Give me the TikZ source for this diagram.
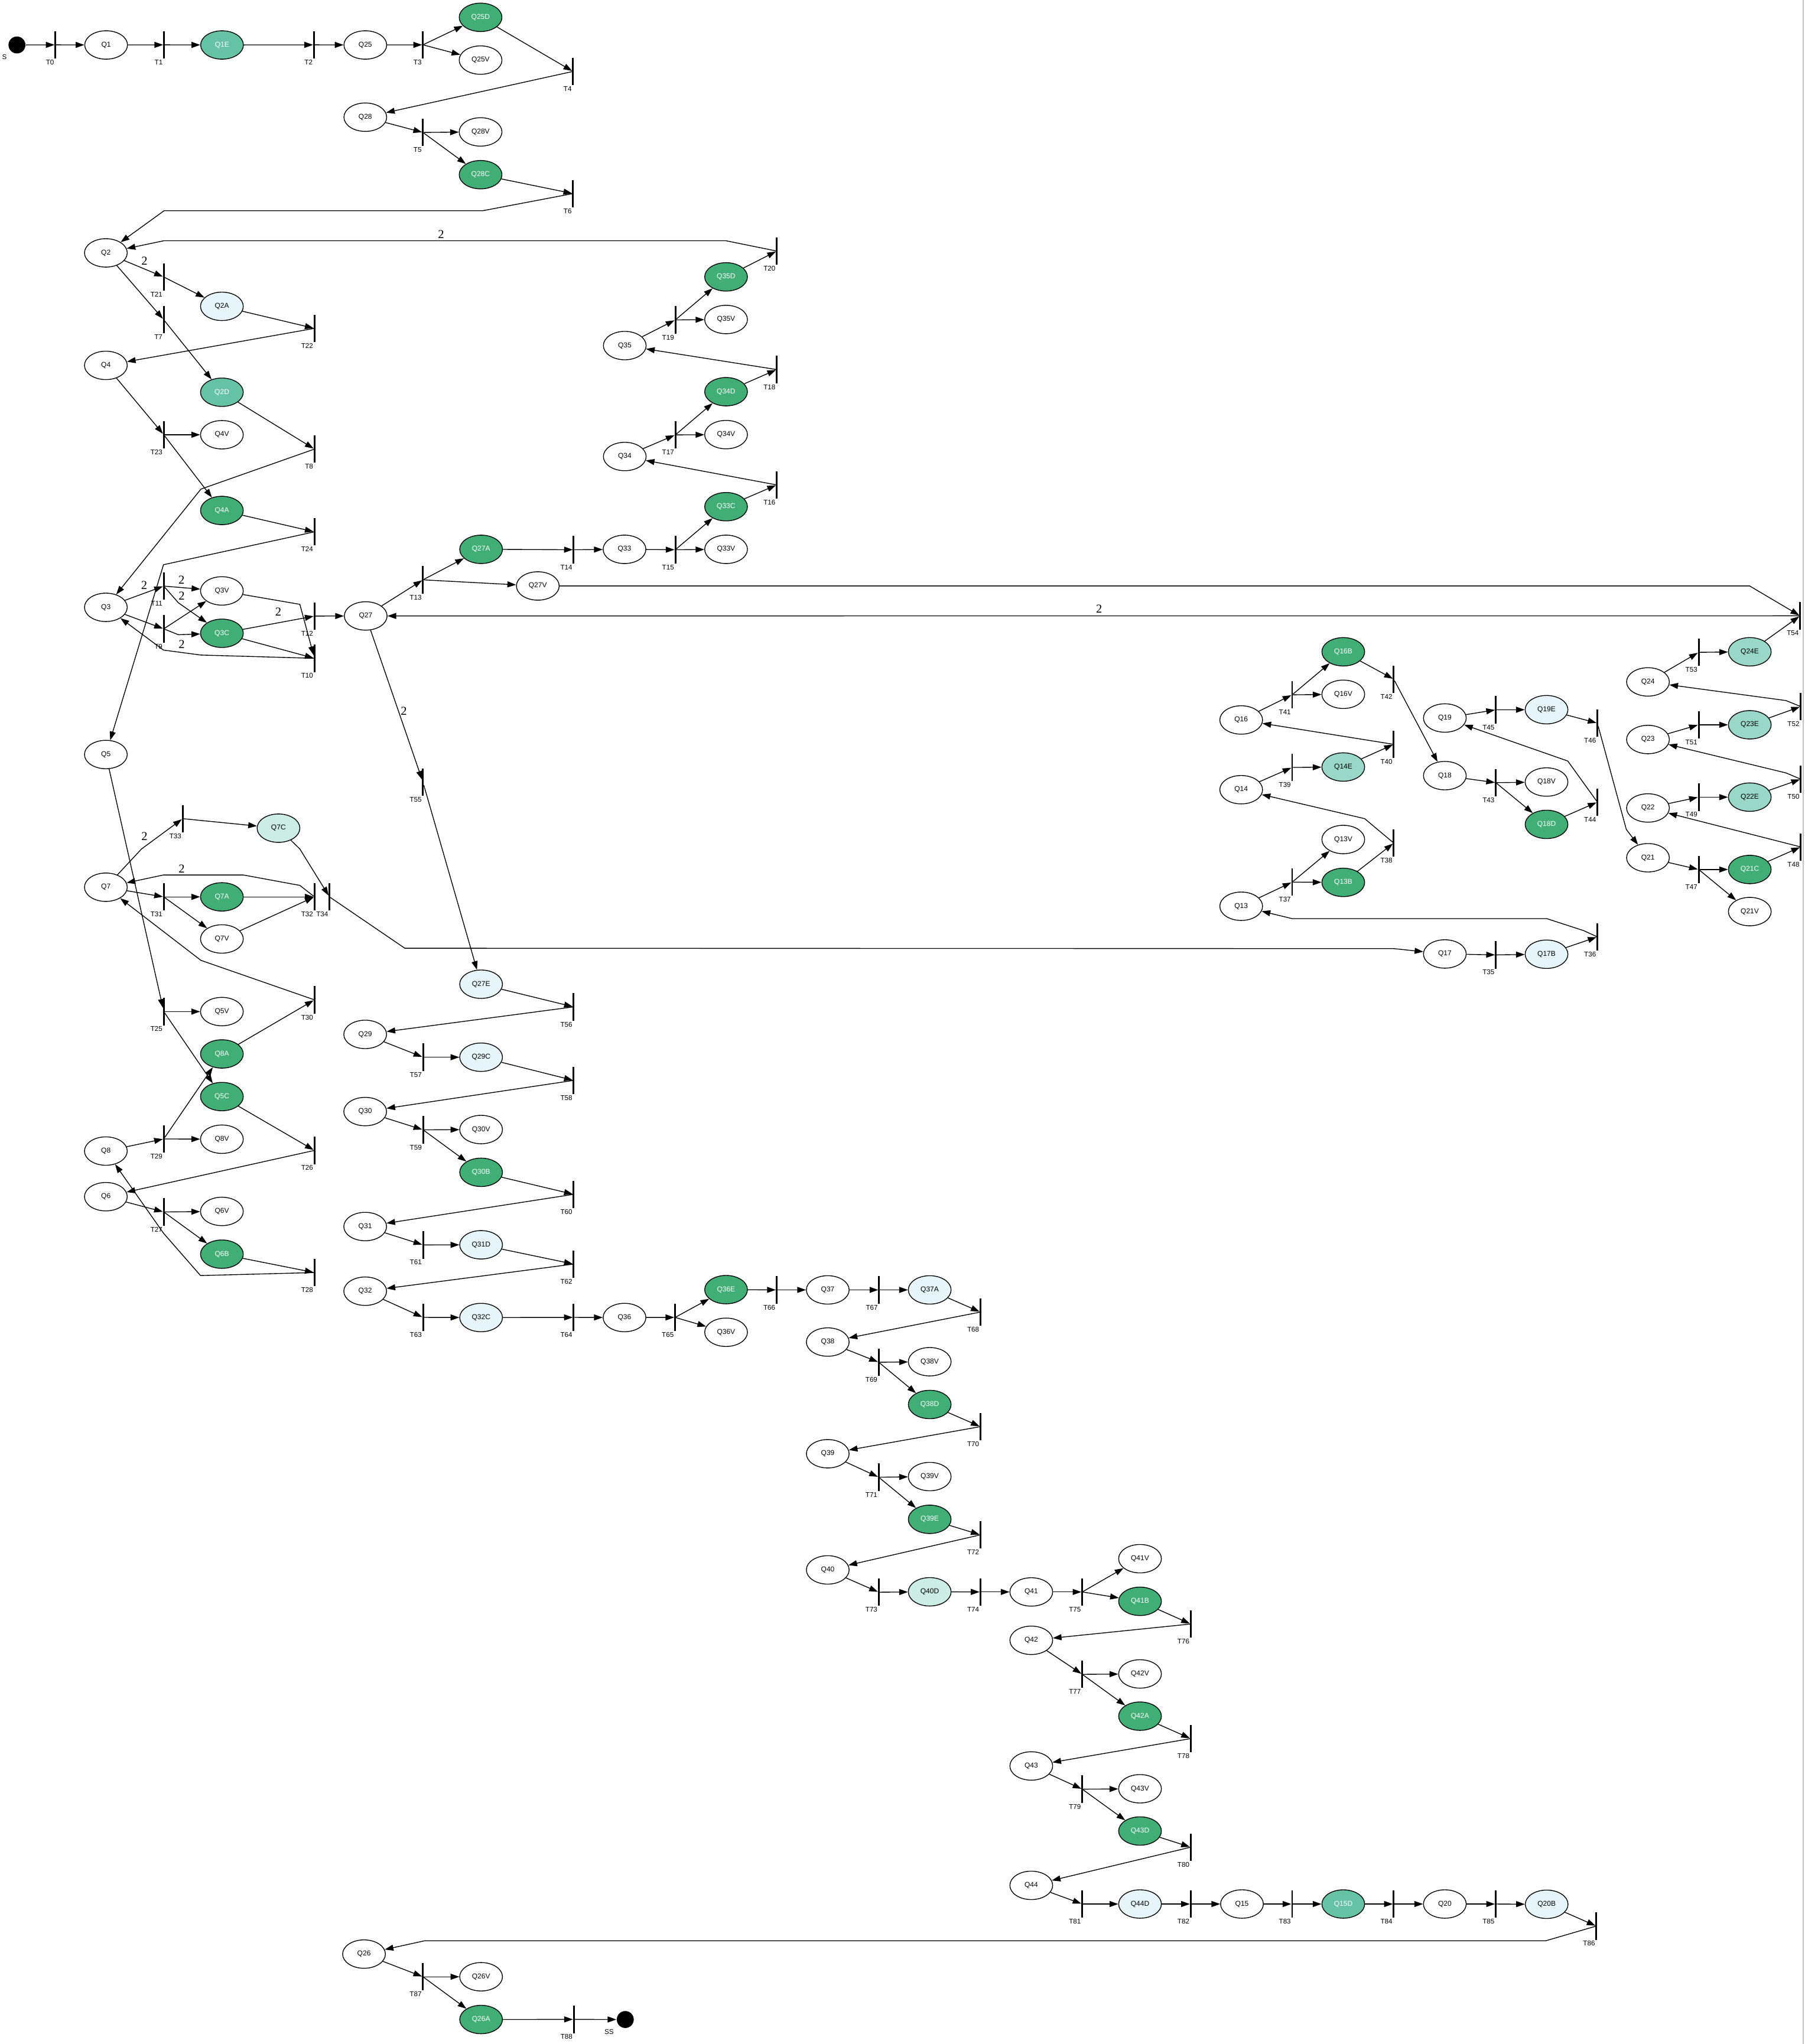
\documentclass[tikz,border=0pt]{standalone}
\usepackage{fontspec}
\setmainfont{Liberation Sans}
\newfontfamily\wfont{Liberation Serif}
\usetikzlibrary{shapes.geometric,arrows.meta}
\definecolor{cdark}{HTML}{41AE76}
\definecolor{cmed}{HTML}{66C2A4}
\definecolor{cteal}{HTML}{99D8C9}
\definecolor{clight}{HTML}{CCECE6}
\definecolor{cblue}{HTML}{E5F5F9}
\tikzset{
  place/.style={ellipse, draw=black, line width=0.35pt, fill=white, minimum width=0.656cm, minimum height=0.436cm, inner sep=0pt, font=\fontsize{3.1}{3.7}\selectfont},
  pdark/.style={place, fill=cdark, text=white},
  pmed/.style={place, fill=cmed, text=white},
  pteal/.style={place, fill=cteal},
  plight/.style={place, fill=clight},
  pblue/.style={place, fill=cblue},
  tlab/.style={anchor=north east, inner sep=0.4pt, font=\fontsize{3}{3.6}\selectfont},
  trans/.style={rectangle, fill=black, minimum width=0.75pt, minimum height=0.42cm, inner sep=0pt, outer sep=0pt, label={[tlab]south:#1}},
  dotnode/.style={circle, fill=black, minimum size=0.26cm, inner sep=0pt},
  edge/.style={draw, line width=0.35pt, -{Triangle[length=3.8pt,width=2.6pt]}},
  wlab/.style={inner sep=0pt, font=\wfont\fontsize{5.3}{6}\selectfont},
}
\begin{document}
\begin{tikzpicture}[x=0.02cm, y=-0.02cm]
\fill[white] (0,0) rectangle (1384,1568);
\useasboundingbox (0,0) rectangle (1384,1568);
\draw[black!25, line width=0.5pt] (1383.2,0) -- (1383.2,1568);

% ---------- top row
\node[dotnode, label={[tlab, xshift=-0.04cm, yshift=-0.03cm]south west:S}] (S) at (13,34.5) {};
\node[trans=T0] (T0) at (42.5,34.4) {};
\node[place] (Q1) at (81.4,34.5) {Q1};
\node[trans=T1] (T1) at (125.8,34.4) {};
\node[pmed] (Q1E) at (170.3,34.5) {Q1E};
\node[trans=T2] (T2) at (240.8,34.4) {};
\node[place] (Q25) at (280.2,34.5) {Q25};
\node[trans=T3] (T3) at (324.4,34.4) {};
\node[pdark] (Q25D) at (368.6,13.3) {Q25D};
\node[place] (Q25V) at (368.6,46.1) {Q25V};
\node[trans=T4] (T4) at (439.5,54.8) {};
\node[place] (Q28) at (280.2,89.9) {Q28};
\node[trans=T5] (T5) at (324.4,101.6) {};
\node[place] (Q28V) at (368.6,101.2) {Q28V};
\node[pdark] (Q28C) at (368.6,134) {Q28C};
\node[trans=T6] (T6) at (439.5,148.5) {};

% ---------- left block
\node[place] (Q2) at (81.2,194) {Q2};
\node[trans=T20] (T20) at (595.8,192.6) {};
\node[trans=T21] (T21) at (125.6,212.5) {};
\node[pblue] (Q2A) at (170.2,235) {Q2A};
\node[trans=T7] (T7) at (125.6,245.3) {};
\node[trans=T22] (T22) at (241.2,251.9) {};
\node[place] (Q4) at (81.2,280.3) {Q4};
\node[pmed] (Q2D) at (170.2,300.9) {Q2D};
\node[trans=T23] (T23) at (125.6,333.5) {};
\node[place] (Q4V) at (170.2,333.5) {Q4V};
\node[trans=T8] (T8) at (241.2,344.5) {};
\node[pdark] (Q4A) at (170.2,391.6) {Q4A};
\node[trans=T24] (T24) at (241.2,408) {};
\node[trans=T11] (T11) at (125.6,449.6) {};
\node[place] (Q3V) at (170.2,453.3) {Q3V};
\node[place] (Q3) at (81.2,465.9) {Q3};
\node[trans=T12] (T12) at (241.2,472.6) {};
\node[place] (Q27) at (280.5,472.5) {Q27};
\node[trans=T9] (T9) at (125.6,482.4) {};
\node[pdark] (Q3C) at (170.2,485.8) {Q3C};
\node[trans=T10] (T10) at (241.2,505) {};
\node[place] (Q5) at (81.2,578.8) {Q5};
\node[trans=T33] (T33) at (140.1,628) {};
\node[plight] (Q7C) at (213.6,635.3) {Q7C};
\node[place] (Q7) at (81.2,680.6) {Q7};
\node[trans=T31] (T31) at (125.6,688) {};
\node[pdark] (Q7A) at (170.2,688) {Q7A};
\node[trans=T32] (T32) at (241.2,688) {};
\node[trans=T34] (T34) at (252.7,688) {};
\node[place] (Q7V) at (170.2,720.3) {Q7V};
\node[trans=T30] (T30) at (241.2,767) {};
\node[trans=T25] (T25) at (125.6,776) {};
\node[place] (Q5V) at (170.2,776) {Q5V};
\node[pdark] (Q8A) at (170.2,808.5) {Q8A};
\node[pdark] (Q5C) at (170.2,841.2) {Q5C};
\node[trans=T29] (T29) at (125.6,873.7) {};
\node[place] (Q8V) at (170.2,873.9) {Q8V};
\node[trans=T26] (T26) at (241.2,882.5) {};
\node[place] (Q8) at (81.2,883) {Q8};
\node[place] (Q6) at (81.2,918) {Q6};
\node[trans=T27] (T27) at (125.6,929.7) {};
\node[place] (Q6V) at (170.2,929.3) {Q6V};
\node[pdark] (Q6B) at (170.2,962.1) {Q6B};
\node[trans=T28] (T28) at (241.2,976.2) {};

% ---------- middle block
\node[trans=T13] (T13) at (324.4,444.8) {};
\node[pdark] (Q27A) at (369,421.4) {Q27A};
\node[place] (Q27V) at (412.5,449.5) {Q27V};
\node[trans=T14] (T14) at (440,421.7) {};
\node[place] (Q33) at (479,421.4) {Q33};
\node[trans=T15] (T15) at (518,421.7) {};
\node[place] (Q33V) at (556.9,421.4) {Q33V};
\node[pdark] (Q33C) at (556.9,388.7) {Q33C};
\node[trans=T16] (T16) at (595.8,372) {};
\node[place] (Q34) at (479.2,350.2) {Q34};
\node[trans=T17] (T17) at (518,333.6) {};
\node[place] (Q34V) at (556.9,333.4) {Q34V};
\node[pdark] (Q34D) at (556.9,300.5) {Q34D};
\node[trans=T18] (T18) at (595.8,283.5) {};
\node[place] (Q35) at (479.2,265.1) {Q35};
\node[trans=T19] (T19) at (518,245.4) {};
\node[place] (Q35V) at (556.9,245.1) {Q35V};
\node[pdark] (Q35D) at (556.9,212.4) {Q35D};
\node[trans=T54] (T54) at (1380.7,472.4) {};
\node[trans=T55] (T55) at (324.4,600) {};
\node[pblue] (Q27E) at (369,755) {Q27E};
\node[trans=T56] (T56) at (440,772.4) {};
\node[place] (Q29) at (280.1,793.5) {Q29};
\node[trans=T57] (T57) at (324.5,811) {};
\node[pblue] (Q29C) at (369,811) {Q29C};
\node[trans=T58] (T58) at (440,828.8) {};
\node[place] (Q30) at (280.1,852.7) {Q30};
\node[trans=T59] (T59) at (324.5,866.7) {};
\node[place] (Q30V) at (369,866.5) {Q30V};
\node[pdark] (Q30B) at (369,899.3) {Q30B};
\node[trans=T60] (T60) at (440,916.2) {};
\node[place] (Q31) at (280.1,940.9) {Q31};
\node[trans=T61] (T61) at (324.5,955) {};
\node[pblue] (Q31D) at (369,954.9) {Q31D};
\node[trans=T62] (T62) at (440,969.7) {};
\node[place] (Q32) at (280.1,990.5) {Q32};
\node[trans=T63] (T63) at (324.5,1010.6) {};
\node[pblue] (Q32C) at (369,1010.7) {Q32C};
\node[trans=T64] (T64) at (440,1010.6) {};
\node[place] (Q36) at (479,1010.7) {Q36};
\node[trans=T65] (T65) at (517.8,1010.6) {};
\node[pdark] (Q36E) at (556.9,989.3) {Q36E};
\node[place] (Q36V) at (556.9,1022) {Q36V};
\node[trans=T66] (T66) at (595.7,989.5) {};
\node[place] (Q37) at (634.9,989.5) {Q37};
\node[trans=T67] (T67) at (674.3,989.5) {};
\node[pblue] (Q37A) at (713.1,989.5) {Q37A};
\node[trans=T68] (T68) at (752,1006.5) {};
\node[place] (Q38) at (634.9,1029.5) {Q38};
\node[trans=T69] (T69) at (674,1045) {};
\node[place] (Q38V) at (713.1,1044.6) {Q38V};
\node[pdark] (Q38D) at (713.1,1077.4) {Q38D};
\node[trans=T70] (T70) at (752,1094.4) {};
\node[place] (Q39) at (634.9,1115.2) {Q39};
\node[trans=T71] (T71) at (674,1133.2) {};
\node[place] (Q39V) at (713.1,1132.7) {Q39V};
\node[pdark] (Q39E) at (713.1,1165.5) {Q39E};
\node[trans=T72] (T72) at (752,1177.4) {};
\node[place] (Q40) at (634.9,1204.3) {Q40};
\node[trans=T73] (T73) at (674,1221.4) {};
\node[plight] (Q40D) at (713.1,1221.1) {Q40D};
\node[trans=T74] (T74) at (752,1221.2) {};
\node[place] (Q41) at (791,1221.2) {Q41};
\node[trans=T75] (T75) at (830.1,1221.2) {};
\node[place] (Q41V) at (874.4,1195.7) {Q41V};
\node[pdark] (Q41B) at (874.4,1228.4) {Q41B};
\node[trans=T76] (T76) at (913.3,1245.8) {};
\node[place] (Q42) at (791,1258.3) {Q42};
\node[trans=T77] (T77) at (830.1,1284.4) {};
\node[place] (Q42V) at (874.4,1284.1) {Q42V};
\node[pdark] (Q42A) at (874.4,1316.5) {Q42A};
\node[trans=T78] (T78) at (913.3,1333.7) {};
\node[place] (Q43) at (791,1354.7) {Q43};
\node[trans=T79] (T79) at (830.1,1372.5) {};
\node[place] (Q43V) at (874.4,1372.2) {Q43V};
\node[pdark] (Q43D) at (874.4,1404.6) {Q43D};
\node[trans=T80] (T80) at (913.3,1417) {};
\node[place] (Q44) at (791,1446.3) {Q44};
\node[trans=T81] (T81) at (830.1,1460.6) {};
\node[pblue] (Q44D) at (874.4,1460.6) {Q44D};
\node[trans=T82] (T82) at (913.3,1460.6) {};
\node[place] (Q15) at (952.6,1460.6) {Q15};
\node[trans=T83] (T83) at (991.1,1460.6) {};
\node[pmed] (Q15D) at (1030.3,1460.6) {Q15D};
\node[trans=T84] (T84) at (1069,1460.6) {};
\node[place] (Q20) at (1108.2,1460.6) {Q20};
\node[trans=T85] (T85) at (1147.3,1460.6) {};
\node[pblue] (Q20B) at (1186.3,1460.8) {Q20B};
\node[trans=T86] (T86) at (1224.4,1477.5) {};
\node[place] (Q26) at (279.2,1499) {Q26};
\node[trans=T87] (T87) at (324.4,1516.4) {};
\node[place] (Q26V) at (369,1516.4) {Q26V};
\node[pdark] (Q26A) at (369,1549.2) {Q26A};
\node[trans=T88] (T88) at (440.1,1549.1) {};
\node[dotnode, label={[tlab, xshift=-0.06cm, yshift=-0.03cm]south west:SS}] (SS) at (479.6,1549.2) {};

% ---------- right block
\node[pdark] (Q16B) at (1030.3,500) {Q16B};
\node[trans=T41] (T41) at (991.1,533) {};
\node[place] (Q16V) at (1030.3,532.6) {Q16V};
\node[trans=T42] (T42) at (1069,521) {};
\node[place] (Q16) at (952,552.3) {Q16};
\node[trans=T40] (T40) at (1069,571) {};
\node[pteal] (Q14E) at (1030.3,588.4) {Q14E};
\node[trans=T39] (T39) at (991.1,588.7) {};
\node[place] (Q14) at (952,605.8) {Q14};
\node[place] (Q13V) at (1030.3,644) {Q13V};
\node[trans=T38] (T38) at (1069,646.7) {};
\node[pdark] (Q13B) at (1030.3,676.9) {Q13B};
\node[trans=T37] (T37) at (991.1,676.7) {};
\node[place] (Q13) at (952,695.2) {Q13};
\node[place] (Q19) at (1108.2,550.8) {Q19};
\node[trans=T45] (T45) at (1147.3,544.5) {};
\node[pblue] (Q19E) at (1186.2,544.4) {Q19E};
\node[trans=T46] (T46) at (1225.2,554.7) {};
\node[place] (Q18) at (1108.2,595) {Q18};
\node[trans=T43] (T43) at (1147.3,600.4) {};
\node[place] (Q18V) at (1186.2,599.9) {Q18V};
\node[pdark] (Q18D) at (1186.2,632.4) {Q18D};
\node[trans=T44] (T44) at (1225.2,615.3) {};
\node[place] (Q17) at (1108.2,731.8) {Q17};
\node[trans=T35] (T35) at (1147.3,732.5) {};
\node[pblue] (Q17B) at (1186.2,732) {Q17B};
\node[trans=T36] (T36) at (1225.2,718.7) {};
\node[pteal] (Q24E) at (1342.1,500) {Q24E};
\node[trans=T53] (T53) at (1302.9,500.4) {};
\node[place] (Q24) at (1264,523.1) {Q24};
\node[trans=T52] (T52) at (1381.2,542) {};
\node[pteal] (Q23E) at (1342.1,556) {Q23E};
\node[trans=T51] (T51) at (1302.9,556) {};
\node[place] (Q23) at (1264,567.3) {Q23};
\node[trans=T50] (T50) at (1381.2,597.7) {};
\node[pteal] (Q22E) at (1342.1,611.5) {Q22E};
\node[trans=T49] (T49) at (1302.9,611.5) {};
\node[place] (Q22) at (1264,619.8) {Q22};
\node[trans=T48] (T48) at (1381.2,649.7) {};
\node[place] (Q21) at (1264,658) {Q21};
\node[trans=T47] (T47) at (1302.9,667) {};
\node[pdark] (Q21C) at (1342.1,667) {Q21C};
\node[place] (Q21V) at (1342.1,699.3) {Q21V};

% ---------- straight arcs
\foreach \a/\b in {S/T0, T0/Q1, Q1/T1, T1/Q1E, Q1E/T2, T2/Q25, Q25/T3, T3/Q25D, T3/Q25V, Q25D/T4, T4/Q28, Q28/T5, T5/Q28V, T5/Q28C, Q28C/T6,
  Q2/T21, T21/Q2A, Q2A/T22, T22/Q4, Q2/T7, T7/Q2D, Q2D/T8,
  Q4/T23, T23/Q4V, T23/Q4A, Q4A/T24,
  Q3/T11, T11/Q3V, Q3/T9, T9/Q3V, Q3C/T10, Q3C/T12, T12/Q27,
  Q5/T25, T25/Q5V, T25/Q5C, Q5C/T26, T26/Q6, Q6/T27, T27/Q6V, T27/Q6B, Q6B/T28,
  Q8/T29, T29/Q8V, T29/Q8A, Q8A/T30,
  T33/Q7C, Q7/T31, T31/Q7A, T31/Q7V, Q7A/T32, Q7V/T32,
  Q27/T13, T13/Q27A, T13/Q27V, Q27A/T14, T14/Q33, Q33/T15, T15/Q33V, T15/Q33C, Q33C/T16, T16/Q34, Q34/T17, T17/Q34V, T17/Q34D, Q34D/T18, T18/Q35, Q35/T19, T19/Q35V, T19/Q35D, Q35D/T20,
  T54/Q27, Q27/T55, T55/Q27E, Q27E/T56, T56/Q29, Q29/T57, T57/Q29C, Q29C/T58, T58/Q30, Q30/T59, T59/Q30V, T59/Q30B, Q30B/T60, T60/Q31, Q31/T61, T61/Q31D, Q31D/T62, T62/Q32, Q32/T63, T63/Q32C, Q32C/T64, T64/Q36, Q36/T65, T65/Q36E, T65/Q36V, Q36E/T66, T66/Q37, Q37/T67, T67/Q37A, Q37A/T68, T68/Q38, Q38/T69, T69/Q38V, T69/Q38D, Q38D/T70, T70/Q39, Q39/T71, T71/Q39V, T71/Q39E, Q39E/T72, T72/Q40, Q40/T73, T73/Q40D, Q40D/T74, T74/Q41, Q41/T75, T75/Q41V, T75/Q41B, Q41B/T76, T76/Q42, Q42/T77, T77/Q42V, T77/Q42A, Q42A/T78, T78/Q43, Q43/T79, T79/Q43V, T79/Q43D, Q43D/T80, T80/Q44, Q44/T81, T81/Q44D, Q44D/T82, T82/Q15, Q15/T83, T83/Q15D, Q15D/T84, T84/Q20, Q20/T85, T85/Q20B, Q20B/T86, Q26/T87, T87/Q26V, T87/Q26A, Q26A/T88, T88/SS,
  Q17/T35, T35/Q17B, Q17B/T36, Q13/T37, T37/Q13V, T37/Q13B, Q13B/T38, Q14/T39, T39/Q14E, Q14E/T40, T40/Q16, Q16/T41, T41/Q16V, T41/Q16B, Q16B/T42, T42/Q18, Q18/T43, T43/Q18V, T43/Q18D, Q18D/T44, Q19/T45, T45/Q19E, Q19E/T46, Q21/T47, T47/Q21C, T47/Q21V, Q21C/T48, T48/Q22, Q22/T49, T49/Q22E, Q22E/T50, Q23/T51, T51/Q23E, Q23E/T52, Q24/T53, T53/Q24E, Q24E/T54}
  \draw[edge] (\a) -- (\b);

% ---------- bent arcs
\draw[edge] (T6) -- (370,161.7) -- (125.8,161.7) -- (Q2);
\draw[edge] (T20) -- (556.9,184.7) -- (125.6,184.7) -- (Q2);
\draw[edge] (T8) -- (154.1,375.2) -- (Q3);
\draw[edge] (T24) -- (125.4,433.2) -- (Q5);
\draw[edge] (T11) -- (136.8,462.4) -- (Q3C);
\draw[edge] (T9) -- (136.8,486.9) -- (Q3C);
\draw[edge] (Q3V) -- (230,463.6) -- (T10);
\draw[edge] (T10) -- (154.1,502.5) -- (125.4,498.7) -- (Q3);
\draw[edge] (T28) -- (153.8,978.5) -- (125.4,946) -- (Q8);
\draw[edge] (T30) -- (154.1,736.7) -- (Q7);
\draw[edge] (Q7) -- (108.5,651.3) -- (T33);
\draw[edge] (Q7C) -- (230,651.3) -- (T34);
\draw[edge] (T34) -- (310.5,727.4) -- (1069,727.7) -- (Q17);
\draw[edge] (T32) -- (230,679.2) -- (186.6,671.2) -- (125.4,671.2) -- (Q7);
\draw[edge] (Q27V) -- (1342,449.5) -- (T54);
\draw[edge] (T36) -- (1214.7,713.9) -- (1186.4,704.7) -- (991.1,704.7) -- (Q13);
\draw[edge] (T38) -- (1046.7,628) -- (Q14);
\draw[edge] (T44) -- (1202.5,583.8) -- (Q19);
\draw[edge] (T46) -- (1247.4,636.3) -- (Q21);
\draw[edge] (T50) -- (1369.8,592.9) -- (Q23);
\draw[edge] (T52) -- (1369.8,537.4) -- (Q24);
\draw[edge] (T86) -- (1185.6,1488.8) -- (325.7,1488.8) -- (Q26);

% ---------- arc weights
\node[wlab] (w1) at (338.3,179.6) {2};
\node[wlab] (w2) at (110.8,200.1) {2};
\node[wlab] (w3) at (110.6,448.8) {2};
\node[wlab] (w4) at (139.2,445) {2};
\node[wlab] (w5) at (139.3,457.1) {2};
\node[wlab] (w6) at (213.4,469.2) {2};
\node[wlab] (w7) at (139.3,494.4) {2};
\node[wlab] (w8) at (843,467) {2};
\node[wlab] (w9) at (309.8,545.6) {2};
\node[wlab] (w10) at (110.8,641.5) {2};
\node[wlab] (w11) at (139.3,666.4) {2};
\end{tikzpicture}
\end{document}
